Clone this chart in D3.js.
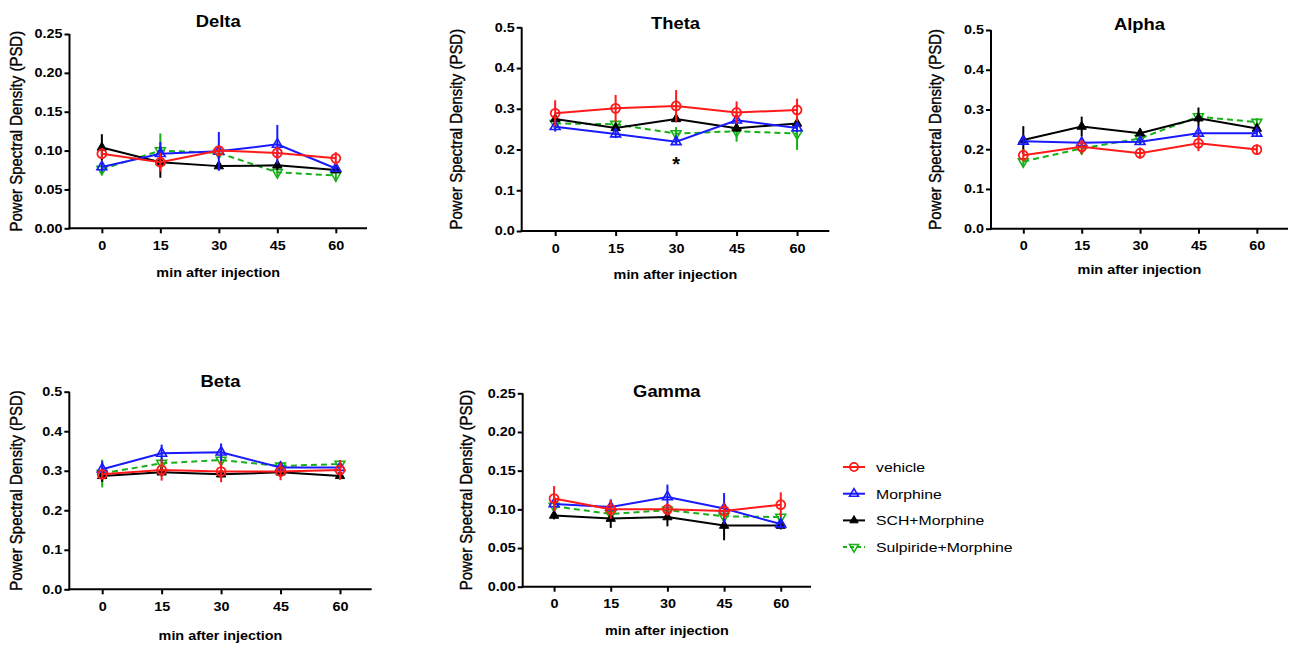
<!DOCTYPE html>
<html>
<head>
<meta charset="utf-8">
<script src="https://cdn.jsdelivr.net/npm/d3@7"></script>
<style>
body { margin: 0; background: #fff; }
text { font-family: Arial, "Liberation Sans", sans-serif; }
</style>
</head>
<body>
<svg width="1290" height="646"></svg>
<script>
var minutes = [0, 15, 30, 45, 60];
var groups = ['vehicle', 'Morphine', 'SCH+Morphine', 'Sulpiride+Morphine'];
var bands = ['Delta', 'Theta', 'Alpha', 'Beta', 'Gamma'];
var yMax = [0.25, 0.5, 0.5, 0.5, 0.25];
var yStep = [0.05, 0.1, 0.1, 0.1, 0.05];

// rows: vehicle, Morphine, SCH+Morphine, Sulpiride+Morphine
var deltaMean = [
  [0.096, 0.085, 0.100, 0.097, 0.090],
  [0.079, 0.096, 0.099, 0.108, 0.077],
  [0.104, 0.085, 0.080, 0.081, 0.075],
  [0.076, 0.100, 0.097, 0.072, 0.068]
];
var deltaSem = [
  [0.007, 0.012, 0.006, 0.008, 0.008],
  [0.006, 0.015, 0.025, 0.025, 0.005],
  [0.017, 0.020, 0.005, 0.006, 0.004],
  [0.006, 0.022, 0.005, 0.005, 0.008]
];
var thetaMean = [
  [0.289, 0.301, 0.307, 0.291, 0.297],
  [0.256, 0.238, 0.219, 0.272, 0.253],
  [0.275, 0.253, 0.275, 0.252, 0.264],
  [0.264, 0.262, 0.239, 0.245, 0.239]
];
var thetaSem = [
  [0.032, 0.033, 0.039, 0.027, 0.028],
  [0.012, 0.010, 0.008, 0.010, 0.010],
  [0.010, 0.010, 0.008, 0.008, 0.006],
  [0.010, 0.010, 0.016, 0.026, 0.040]
];
var alphaMean = [
  [0.185, 0.206, 0.190, 0.215, 0.199],
  [0.220, 0.216, 0.219, 0.240, 0.240],
  [0.223, 0.257, 0.240, 0.278, 0.252],
  [0.169, 0.202, 0.227, 0.282, 0.268]
];
var alphaSem = [
  [0.015, 0.018, 0.014, 0.020, 0.013],
  [0.010, 0.010, 0.008, 0.010, 0.008],
  [0.035, 0.025, 0.010, 0.027, 0.010],
  [0.010, 0.015, 0.010, 0.010, 0.010]
];
var betaMean = [
  [0.291, 0.302, 0.298, 0.298, 0.302],
  [0.304, 0.344, 0.347, 0.308, 0.308],
  [0.287, 0.296, 0.291, 0.296, 0.287],
  [0.293, 0.319, 0.327, 0.312, 0.317]
];
var betaSem = [
  [0.012, 0.027, 0.027, 0.022, 0.025],
  [0.020, 0.022, 0.022, 0.015, 0.012],
  [0.015, 0.010, 0.010, 0.010, 0.008],
  [0.035, 0.015, 0.013, 0.010, 0.010]
];
var gammaMean = [
  [0.114, 0.100, 0.100, 0.098, 0.106],
  [0.107, 0.103, 0.116, 0.101, 0.081],
  [0.092, 0.088, 0.090, 0.079, 0.079],
  [0.104, 0.094, 0.099, 0.091, 0.090]
];
var gammaSem = [
  [0.016, 0.012, 0.008, 0.010, 0.016],
  [0.010, 0.010, 0.016, 0.020, 0.006],
  [0.005, 0.012, 0.012, 0.019, 0.005],
  [0.005, 0.005, 0.006, 0.005, 0.005]
];
var means = [deltaMean, thetaMean, alphaMean, betaMean, gammaMean];
var sems = [deltaSem, thetaSem, alphaSem, betaSem, gammaSem];

// significance mark: Theta, 30 min
var starBand = 1, starMinute = 30;

var colors = ['#ff1a1a', '#1a1aff', '#000000', '#18b018'];
var dashes = [null, null, null, '6,4'];

// panel frames
var panels = [
  {left: 69.5, right: 367, top: 34, bottom: 228.3, titleY: 27, xLabY: 277, yLabX: 22},
  {left: 521.7, right: 829.3, top: 27.3, bottom: 231, titleY: 29, xLabY: 279, yLabX: 462},
  {left: 991, right: 1288, top: 30, bottom: 228.7, titleY: 30.5, xLabY: 274, yLabX: 940.5},
  {left: 69.3, right: 371.7, top: 391.7, bottom: 589.3, titleY: 386.7, xLabY: 640.5, yLabX: 22},
  {left: 522.7, right: 811, top: 393.3, bottom: 586.7, titleY: 396.7, xLabY: 635.5, yLabX: 471.5}
];

var svg = d3.select('svg');

// the source figure is slightly wider than tall, so text is stretched a bit
function stretch(sel, origin, k) {
  sel.style('transform-box', 'fill-box').style('transform-origin', origin)
    .style('transform', 'scaleX(' + (k || 1.18) + ')');
}

function marker(g, i, size) {
  var sym;
  if (i == 0) {
    sym = g.append('path').attr('d', d3.symbol(d3.symbolCircle, size * 1.5)())
      .attr('fill', 'none').attr('stroke', colors[i]).attr('stroke-width', 1.8);
  } else if (i == 1) {
    sym = g.append('path').attr('d', d3.symbol(d3.symbolTriangle, size)())
      .attr('fill', 'none').attr('stroke', colors[i]).attr('stroke-width', 1.6);
  } else if (i == 2) {
    sym = g.append('path').attr('d', d3.symbol(d3.symbolTriangle, size * 0.9)())
      .attr('fill', colors[i]).attr('stroke', colors[i]).attr('stroke-width', 1);
  } else {
    sym = g.append('path').attr('d', d3.symbol(d3.symbolTriangle, size)())
      .attr('transform', 'rotate(180)')
      .attr('fill', 'none').attr('stroke', colors[i]).attr('stroke-width', 1.6);
  }
  return sym;
}

bands.forEach(function(band, b) {
  var p = panels[b];
  var x = d3.scaleLinear().domain([-8.3, 68]).range([p.left, p.right]);
  var y = d3.scaleLinear().domain([0, yMax[b]]).range([p.bottom, p.top]);
  var g = svg.append('g');

  var yTicks = d3.range(0, yMax[b] + 1e-9, yStep[b]);
  var fmt = d3.format(yMax[b] < 0.3 ? '.2f' : '.1f');

  var ya = g.append('g').attr('transform', 'translate(' + p.left + ',0)')
    .call(d3.axisLeft(y).tickValues(yTicks).tickFormat(fmt).tickSize(5).tickPadding(2).tickSizeOuter(0));
  var xa = g.append('g').attr('transform', 'translate(0,' + p.bottom + ')')
    .call(d3.axisBottom(x).tickValues(minutes).tickSize(5).tickPadding(8).tickSizeOuter(0));
  [ya, xa].forEach(function(a) {
    a.select('.domain').attr('stroke', '#000').attr('stroke-width', 2);
    a.selectAll('.tick line').attr('stroke', '#000').attr('stroke-width', 2);
    a.selectAll('.tick text').attr('fill', '#000').style('font-size', '12px').style('font-weight', 'bold')
      .style('font-family', 'Arial, "Liberation Sans", sans-serif');
  });
  stretch(ya.selectAll('.tick text'), 'right center', 1.2);
  stretch(xa.selectAll('.tick text'), 'center', 1.2);
  ya.select('.domain').attr('d', 'M0,' + (p.bottom + 1) + 'V' + p.top);
  xa.select('.domain').attr('d', 'M' + (p.left - 1) + ',0H' + p.right);

  var t = g.append('text').attr('x', (p.left + p.right) / 2).attr('y', p.titleY)
    .attr('text-anchor', 'middle').style('font-size', '16px').style('font-weight', 'bold').text(band);
  stretch(t, 'center', 1.15);
  var xl = g.append('text').attr('x', (p.left + p.right) / 2).attr('y', p.xLabY)
    .attr('text-anchor', 'middle').style('font-size', '12.5px').style('font-weight', 'bold').text('min after injection');
  stretch(xl, 'center', 1.15);
  g.append('text')
    .attr('transform', 'translate(' + p.yLabX + ',' + ((p.top + p.bottom) / 2) + ') scale(1.12,1) rotate(-90)')
    .attr('text-anchor', 'middle').style('font-size', '15px')
    .attr('stroke', '#000').attr('stroke-width', 0.35).text('Power Spectral Density (PSD)');

  var line = d3.line().x(function(d, k) { return x(minutes[k]); }).y(function(d) { return y(d); });

  [3, 2, 1, 0].forEach(function(i) {
    var gg = g.append('g');
    means[b][i].forEach(function(m, k) {
      var s = sems[b][i][k];
      gg.append('line').attr('x1', x(minutes[k])).attr('x2', x(minutes[k]))
        .attr('y1', y(Math.max(0, m - s))).attr('y2', y(m + s))
        .attr('stroke', colors[i]).attr('stroke-width', 2);
    });
    gg.append('path').datum(means[b][i]).attr('d', line)
      .attr('fill', 'none').attr('stroke', colors[i]).attr('stroke-width', 2)
      .attr('stroke-dasharray', dashes[i]);
    means[b][i].forEach(function(m, k) {
      var mg = gg.append('g').attr('transform', 'translate(' + x(minutes[k]) + ',' + y(m) + ')');
      marker(mg, i, 42);
    });
  });

  if (b == starBand) {
    var k = minutes.indexOf(starMinute);
    var low = d3.min(means[b], function(r) { return r[k]; });
    g.append('text').attr('x', x(starMinute)).attr('y', y(low) + 29)
      .attr('text-anchor', 'middle').style('font-size', '20px').style('font-weight', 'bold').text('*');
  }
});

// legend
var leg = svg.append('g').attr('transform', 'translate(843,467)');
groups.forEach(function(name, i) {
  var row = leg.append('g').attr('transform', 'translate(0,' + (i * 26.7) + ')');
  row.append('line').attr('x1', 0).attr('x2', 22).attr('y1', 0).attr('y2', 0)
    .attr('stroke', colors[i]).attr('stroke-width', 2).attr('stroke-dasharray', i == 3 ? '4,3' : null);
  var mg = row.append('g').attr('transform', 'translate(11,0)');
  marker(mg, i, 34);
  var lt = row.append('text').attr('x', 33).attr('y', 5).style('font-size', '13.5px').text(name);
  stretch(lt, 'left center', 1.17);
});
</script>
</body>
</html>
